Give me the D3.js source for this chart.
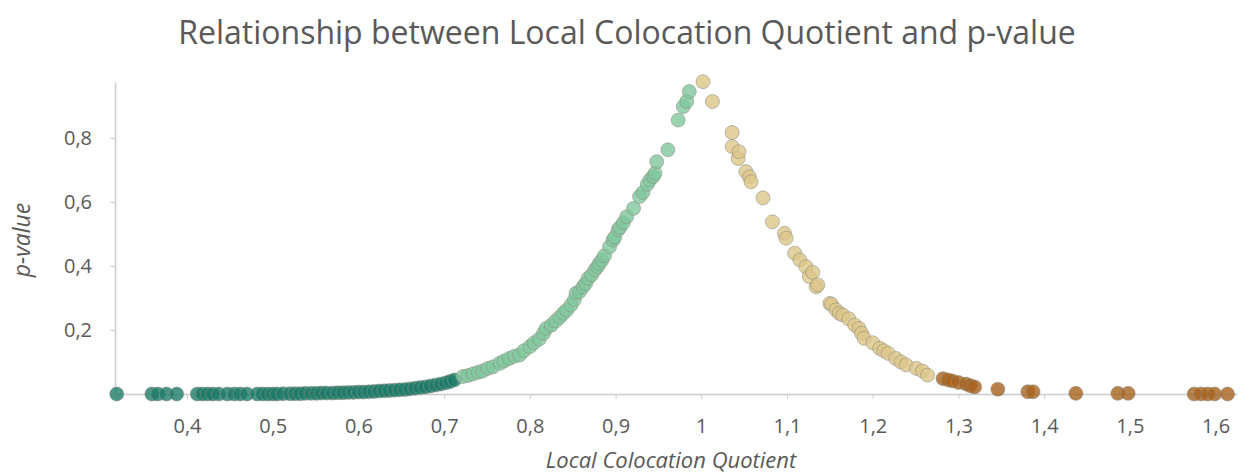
<!DOCTYPE html>
<html>
<head>
<meta charset="utf-8">
<script src="https://cdn.jsdelivr.net/npm/d3@7"></script>
<style>
  body { margin: 0; background: #fff; }
  svg text { font-family: "Open Sans", Lato, sans-serif; fill: #595959; }
</style>
</head>
<body>
<div id="chart"></div>
<script>
// Local Colocation Quotient (x) and its p-value (y)
const lclq = [
  0.318, 0.359, 0.366, 0.376, 0.388,
  0.412, 0.418, 0.424, 0.430, 0.437, 0.447, 0.455, 0.462, 0.470,
  0.482, 0.488, 0.494, 0.500, 0.505, 0.512, 0.520, 0.526, 0.532, 0.538,
  0.545, 0.551, 0.557, 0.563, 0.570, 0.576, 0.582, 0.588, 0.594, 0.600,
  0.606, 0.612, 0.618, 0.624, 0.630, 0.636, 0.642, 0.648, 0.654, 0.660,
  0.666, 0.672, 0.678, 0.684, 0.690, 0.696, 0.702, 0.707, 0.712,
  0.722, 0.728, 0.734, 0.740, 0.745, 0.751, 0.757, 0.765, 0.770, 0.776,
  0.782, 0.788, 0.793, 0.800, 0.805, 0.811, 0.816, 0.819, 0.825, 0.830,
  0.835, 0.839, 0.843, 0.848, 0.852, 0.854, 0.858, 0.862, 0.865, 0.868,
  0.872, 0.876, 0.879, 0.881, 0.884, 0.887, 0.893, 0.897, 0.899, 0.903,
  0.905, 0.909, 0.913, 0.921, 0.928, 0.932, 0.937, 0.940, 0.944, 0.946,
  0.948, 0.961, 0.973, 0.979, 0.983, 0.986, 1.002,
  1.013, 1.036, 1.036, 1.043, 1.044, 1.052, 1.056, 1.058, 1.072, 1.083,
  1.097, 1.099, 1.109, 1.115, 1.122, 1.126, 1.130, 1.134, 1.136, 1.150,
  1.152, 1.157, 1.161, 1.165, 1.172, 1.179, 1.184, 1.187, 1.190, 1.200,
  1.208, 1.213, 1.218, 1.227, 1.233, 1.239, 1.251, 1.258, 1.264,
  1.282, 1.288, 1.293, 1.300, 1.309, 1.314, 1.319, 1.346, 1.381, 1.387,
  1.437, 1.486, 1.498, 1.575, 1.583, 1.591, 1.599, 1.614
];
const pValue = [
  0.000, 0.000, 0.000, 0.000, 0.000,
  0.000, 0.000, 0.000, 0.000, 0.000, 0.000, 0.000, 0.000, 0.000,
  0.000, 0.000, 0.000, 0.000, 0.000, 0.001, 0.001, 0.001, 0.001, 0.002,
  0.002, 0.002, 0.003, 0.003, 0.003, 0.004, 0.004, 0.005, 0.005, 0.006,
  0.006, 0.007, 0.008, 0.009, 0.010, 0.011, 0.012, 0.013, 0.014, 0.016,
  0.018, 0.020, 0.022, 0.025, 0.028, 0.031, 0.035, 0.039, 0.044,
  0.055, 0.058, 0.063, 0.068, 0.072, 0.080, 0.085, 0.096, 0.103, 0.111,
  0.118, 0.122, 0.135, 0.148, 0.160, 0.172, 0.190, 0.205, 0.215, 0.228,
  0.240, 0.252, 0.262, 0.278, 0.295, 0.315, 0.320, 0.335, 0.345, 0.361,
  0.372, 0.388, 0.398, 0.408, 0.418, 0.432, 0.460, 0.481, 0.490, 0.513,
  0.520, 0.535, 0.554, 0.580, 0.617, 0.630, 0.655, 0.669, 0.680, 0.690,
  0.726, 0.763, 0.856, 0.898, 0.914, 0.945, 0.976,
  0.914, 0.817, 0.773, 0.736, 0.757, 0.695, 0.679, 0.663, 0.613, 0.538,
  0.502, 0.487, 0.440, 0.419, 0.398, 0.367, 0.380, 0.335, 0.341, 0.283,
  0.280, 0.263, 0.252, 0.247, 0.235, 0.216, 0.205, 0.190, 0.174, 0.160,
  0.143, 0.135, 0.127, 0.111, 0.100, 0.091, 0.080, 0.072, 0.059,
  0.048, 0.044, 0.041, 0.036, 0.031, 0.026, 0.022, 0.015, 0.007, 0.007,
  0.002, 0.002, 0.002, 0.000, 0.000, 0.000, 0.000, 0.000
];
const xTicks = [0.4, 0.5, 0.6, 0.7, 0.8, 0.9, 1, 1.1, 1.2, 1.3, 1.4, 1.5, 1.6];
const yTicks = [0.2, 0.4, 0.6, 0.8];

const points = lclq.map((v, i) => ({ x: v, p: pValue[i] }));

const width = 1241;
const height = 476;
const margin = { left: 115, right: 4, top: 82, bottom: 82 };

const svg = d3.select("#chart")
  .append("svg")
  .attr("width", width)
  .attr("height", height);

// comma as decimal separator
const locale = d3.formatLocale({ decimal: ",", thousands: ".", grouping: [3], currency: ["", ""] });
const fmt = locale.format("~g");

// Scales
const xScale = d3.scaleLinear()
  .domain([0.316, 1.625])
  .range([margin.left, width - margin.right]);

const yScale = d3.scaleLinear()
  .domain([0, 0.975])
  .range([height - margin.bottom, margin.top]);

// colour by side of 1 and significance
function colour(d) {
  if (d.x < 1) return d.p < 0.05 ? "#1c7a68" : "#80c79c";
  return d.p < 0.05 ? "#a8611d" : "#dcc588";
}

// Title
svg.append("text")
  .attr("x", 627)
  .attr("y", 44)
  .attr("text-anchor", "middle")
  .style("font-size", "32px")
  .text("Relationship between Local Colocation Quotient and p-value");

// Axes
const xAxis = d3.axisBottom(xScale)
  .tickValues(xTicks)
  .tickFormat(fmt)
  .tickSize(5)
  .tickSizeOuter(0)
  .tickPadding(20);

const yAxis = d3.axisLeft(yScale)
  .tickValues(yTicks)
  .tickFormat(fmt)
  .tickSize(5)
  .tickSizeOuter(0)
  .tickPadding(18);

const gx = svg.append("g")
  .attr("transform", `translate(0, ${yScale(0)})`)
  .call(xAxis);

const gy = svg.append("g")
  .attr("transform", `translate(${margin.left}, 0)`)
  .call(yAxis);

[gx, gy].forEach(g => {
  g.select(".domain").attr("stroke", "#cccccc").attr("stroke-width", 1.5);
  g.selectAll(".tick line").attr("stroke", "#cccccc");
  g.selectAll(".tick text")
    .attr("fill", "#595959")
    .style("font-size", "20px")
    .style("font-family", "'Open Sans', Lato, sans-serif");
});

// Axis titles
svg.append("text")
  .attr("x", 671)
  .attr("y", 468)
  .attr("text-anchor", "middle")
  .style("font-size", "22px")
  .style("font-style", "italic")
  .text("Local Colocation Quotient");

svg.append("text")
  .attr("transform", "translate(30, 240) rotate(-90)")
  .attr("text-anchor", "middle")
  .style("font-size", "23px")
  .style("font-style", "italic")
  .text("p-value");

// Render the dots
svg.append("g")
  .selectAll("circle")
  .data(points)
  .enter()
  .append("circle")
    .attr("cx", d => xScale(d.x))
    .attr("cy", d => yScale(d.p))
    .attr("r", 7)
    .attr("fill", colour)
    .attr("fill-opacity", 0.8)
    .attr("stroke", "#8c8c80")
    .attr("stroke-opacity", 0.55)
    .attr("stroke-width", 1);
</script>
</body>
</html>
